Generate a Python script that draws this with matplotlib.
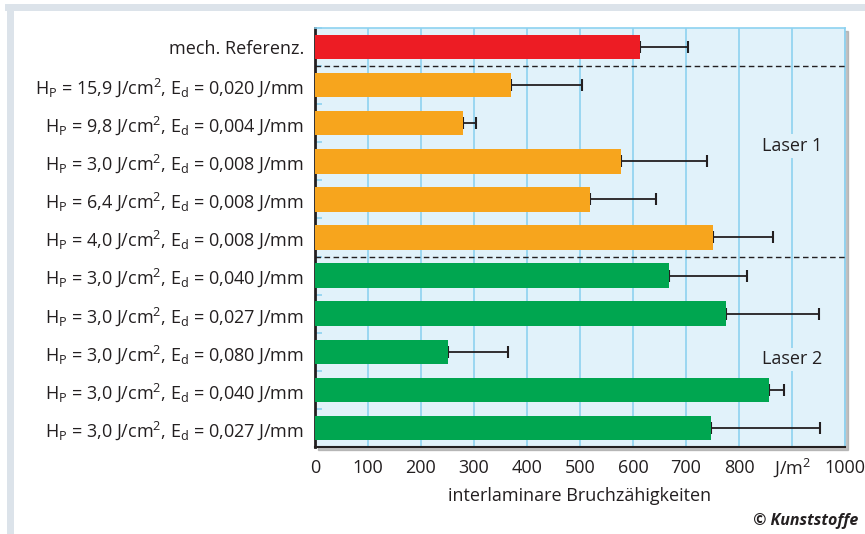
import matplotlib
matplotlib.use("Agg")
import matplotlib.pyplot as plt
from matplotlib.patches import Rectangle
from matplotlib.lines import Line2D

plt.rcParams['font.family'] = ['Open Sans', 'DejaVu Sans']
plt.rcParams['mathtext.fontset'] = 'custom'
plt.rcParams['mathtext.rm'] = 'Open Sans'
plt.rcParams['mathtext.it'] = 'Open Sans:italic'

# data
labels = ["mech. Referenz.",
          r"H$_\mathrm{P}$ = 15,9 J/cm$^\mathrm{2}$, E$_\mathrm{d}$ = 0,020 J/mm",
          r"H$_\mathrm{P}$ = 9,8 J/cm$^\mathrm{2}$, E$_\mathrm{d}$ = 0,004 J/mm",
          r"H$_\mathrm{P}$ = 3,0 J/cm$^\mathrm{2}$, E$_\mathrm{d}$ = 0,008 J/mm",
          r"H$_\mathrm{P}$ = 6,4 J/cm$^\mathrm{2}$, E$_\mathrm{d}$ = 0,008 J/mm",
          r"H$_\mathrm{P}$ = 4,0 J/cm$^\mathrm{2}$, E$_\mathrm{d}$ = 0,008 J/mm",
          r"H$_\mathrm{P}$ = 3,0 J/cm$^\mathrm{2}$, E$_\mathrm{d}$ = 0,040 J/mm",
          r"H$_\mathrm{P}$ = 3,0 J/cm$^\mathrm{2}$, E$_\mathrm{d}$ = 0,027 J/mm",
          r"H$_\mathrm{P}$ = 3,0 J/cm$^\mathrm{2}$, E$_\mathrm{d}$ = 0,080 J/mm",
          r"H$_\mathrm{P}$ = 3,0 J/cm$^\mathrm{2}$, E$_\mathrm{d}$ = 0,040 J/mm",
          r"H$_\mathrm{P}$ = 3,0 J/cm$^\mathrm{2}$, E$_\mathrm{d}$ = 0,027 J/mm"]
values = [614, 369, 280, 578, 519, 750, 667, 775, 250, 856, 747]
errs = [90, 134, 24, 162, 124, 114, 148, 176, 114, 29, 206]
groups = ["ref", "l1", "l1", "l1", "l1", "l1", "l2", "l2", "l2", "l2", "l2"]
xticks = [0, 100, 200, 300, 400, 500, 600, 700, 800, 900, 1000]
xticklabels = ["0", "100", "200", "300", "400", "500", "600", "700", "800", r"J/m$^\mathrm{2}$", "1000"]

colors = {"ref": "#ed1c24", "l1": "#f7a51d", "l2": "#00a650"}
bg = "#e1f2fa"
grid_c = "#8ed2f0"
txt = "#231f20"

fig = plt.figure(figsize=(8.65, 5.34), dpi=100)
L, B, R, T = 315/865, 1-447/534, 845/865, 1-28/534
ax = fig.add_axes([L, B, R-L, T-B])

# outer frame (gray) and drop shadow
fig.add_artist(Line2D([10/865, 10/865], [0, 1-7/534], transform=fig.transFigure, color="#dce3ea", lw=5))
fig.add_artist(Line2D([8/865, 1], [1-7/534, 1-7/534], transform=fig.transFigure, color="#dce3ea", lw=5))
fig.add_artist(Rectangle((L+3/865, B-3/534), R-L, T-B, transform=fig.transFigure,
                         color="#9a9a9a", alpha=0.6, zorder=-1))

ax.set_facecolor(bg)
y = list(range(len(values)))
ax.errorbar(values, y, xerr=[[0]*len(errs), errs], fmt="none", ecolor=txt,
            elinewidth=1.3, capsize=4, capthick=1.5, zorder=2)
ax.barh(y, values, height=0.64, color=[colors[g] for g in groups], zorder=3)

ax.axhline(0.5, color=txt, lw=1, ls=(0, (4, 2.5)), zorder=4)
ax.axhline(5.5, color=txt, lw=1, ls=(0, (4, 2.5)), zorder=4)

ax.set_xlim(0, 1000)
ax.set_ylim(10.5, -0.5)
ax.set_xticks(xticks)
ax.set_xticklabels(xticklabels)
ax.set_yticks(y)
ax.set_yticklabels(labels)
ax.set_yticks([i + 0.5 for i in range(-1, 10)], minor=True)
ax.tick_params(axis="x", length=0, pad=19, labelsize=13, labelcolor=txt)
for lb in ax.get_xticklabels():
    lb.set_va("baseline")
ax.tick_params(axis="y", which="major", length=0, pad=8, labelsize=13, labelcolor=txt)
ax.tick_params(axis="y", which="minor", direction="in", length=5, color=grid_c, width=1.2)
ax.grid(axis="x", color=grid_c, lw=1.2, zorder=0)
ax.set_axisbelow(True)

for s in ["top", "right"]:
    ax.spines[s].set_color(grid_c)
    ax.spines[s].set_linewidth(1.2)
ax.spines["left"].set_color(txt)
ax.spines["left"].set_linewidth(2)
ax.spines["bottom"].set_color(txt)
ax.spines["bottom"].set_linewidth(1.5)

ax.text(900, 2.6, "Laser 1", ha="center", va="center", fontsize=13, color=txt,
        bbox=dict(facecolor=bg, edgecolor="none", pad=2), zorder=5)
ax.text(900, 8.2, "Laser 2", ha="center", va="center", fontsize=13, color=txt,
        bbox=dict(facecolor=bg, edgecolor="none", pad=2), zorder=5)

ax.set_xlabel("interlaminare Bruchzähigkeiten", fontsize=13, color=txt, labelpad=6)
fig.text(858/865, 1-521/534, "© Kunststoffe", ha="right", va="center", fontsize=11.5,
         fontweight="bold", style="italic", color=txt)

fig.savefig("out.png", dpi=100)
